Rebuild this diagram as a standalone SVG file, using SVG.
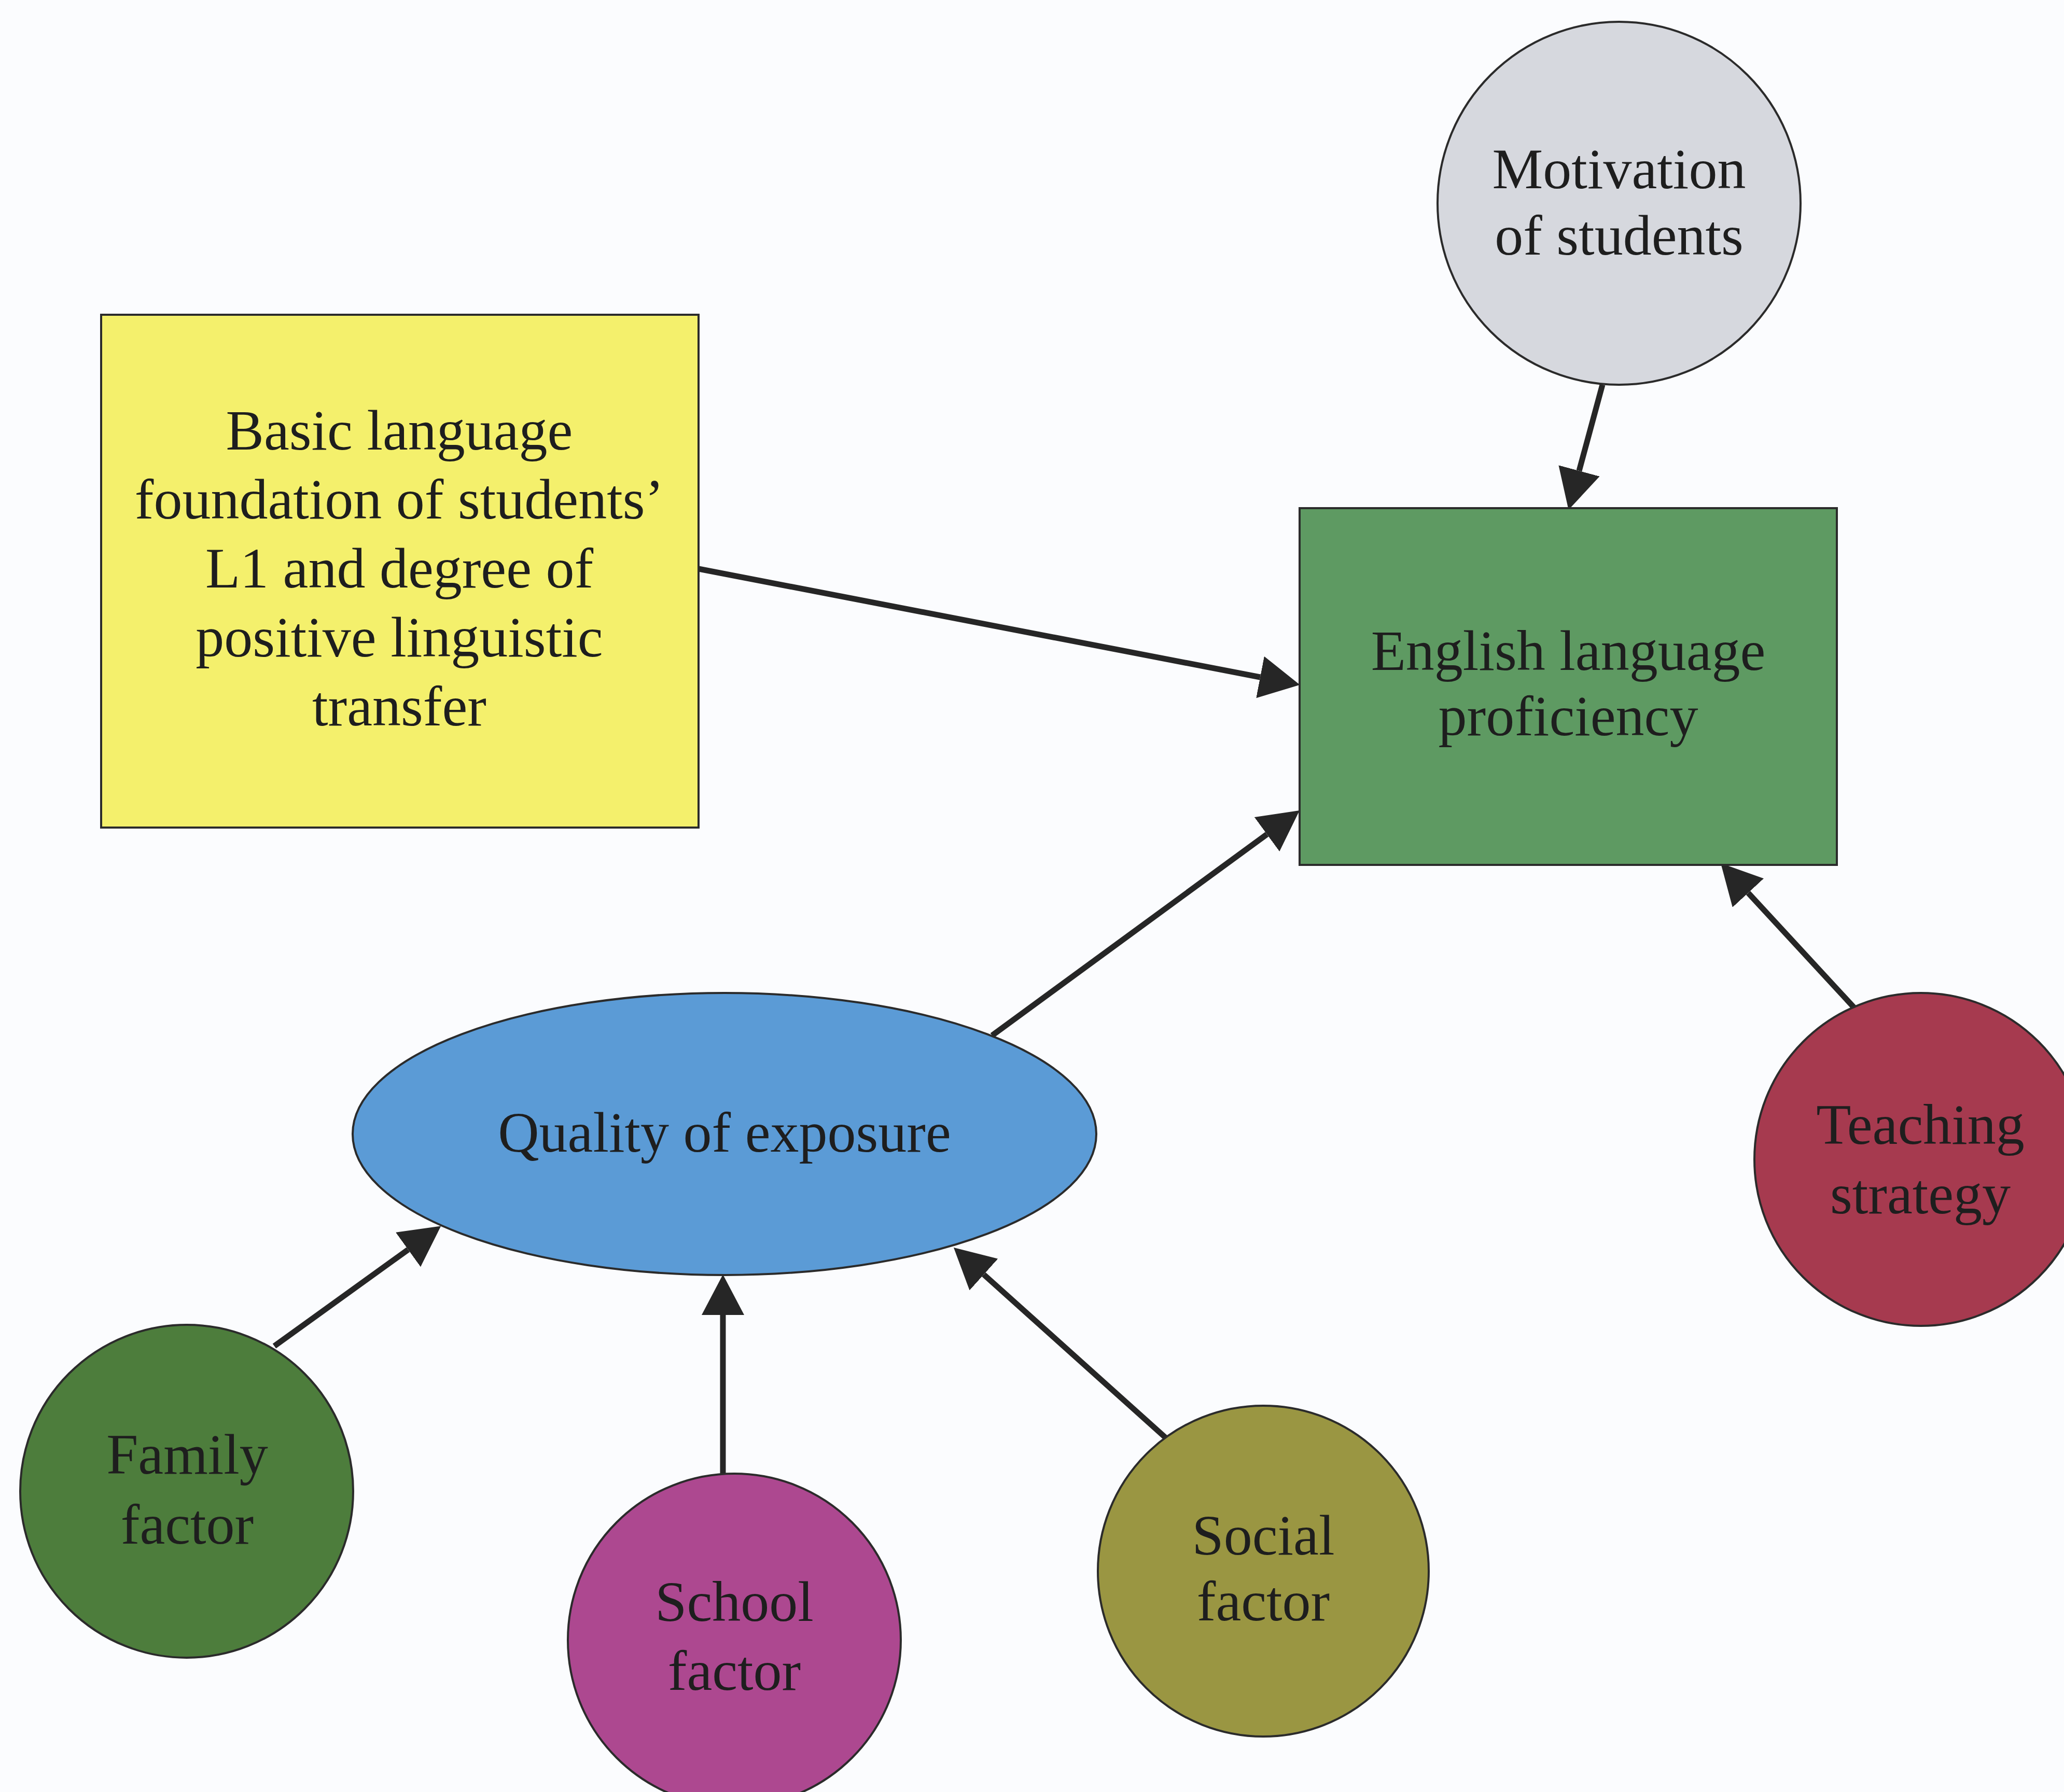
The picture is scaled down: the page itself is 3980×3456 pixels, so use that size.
<svg xmlns="http://www.w3.org/2000/svg" width="3980" height="3456" viewBox="0 0 3980 3456">
<style>
.shape{stroke:#2b2b2b;stroke-width:4}
.lbl{font-family:"Liberation Serif","Times New Roman",serif;font-size:110px;fill:#1e1e1e;text-anchor:middle}
.conn{stroke:#262626;stroke-width:11;fill:none;marker-end:url(#ah)}
</style>
<defs>
<marker id="ah" markerUnits="userSpaceOnUse" viewBox="0 0 78 82" refX="0" refY="41" markerWidth="78" markerHeight="82" orient="auto">
<path d="M0,0 L78,41 L0,82 z" fill="#262626"/>
</marker>
</defs>
<rect x="0" y="0" width="3980" height="3456" fill="#fbfcfe"/>
<g id="connectors">
<line class="conn" x1="3090" y1="742" x2="3045" y2="908"/>
<line class="conn" x1="1347" y1="1097" x2="2430" y2="1306"/>
<line class="conn" x1="1913" y1="1997" x2="2443" y2="1609"/>
<line class="conn" x1="3576" y1="1944" x2="3371" y2="1722"/>
<line class="conn" x1="529" y1="2596" x2="787" y2="2410"/>
<line class="conn" x1="1394" y1="2842" x2="1394" y2="2536"/>
<line class="conn" x1="2248" y1="2773" x2="1897" y2="2458"/>
</g>
<g id="motivation">
<circle class="shape" cx="3122" cy="392" r="350" fill="#d6d8de"/>
<text class="lbl" x="3122" y="363">Motivation</text>
<text class="lbl" x="3122" y="491">of students</text>
</g>
<g id="basic-language">
<rect class="shape" x="195" y="607" width="1152" height="989" fill="#f4f06c"/>
<text class="lbl" x="770" y="867">Basic language</text>
<text class="lbl" x="770" y="1000">foundation of students’</text>
<text class="lbl" x="770" y="1133">L1 and degree of</text>
<text class="lbl" x="770" y="1266">positive linguistic</text>
<text class="lbl" x="770" y="1399">transfer</text>
</g>
<g id="english">
<rect class="shape" x="2506" y="980" width="1036" height="688" fill="#5e9a62"/>
<text class="lbl" x="3024" y="1292">English language</text>
<text class="lbl" x="3024" y="1418">proficiency</text>
</g>
<g id="quality">
<ellipse class="shape" cx="1397" cy="2187" rx="717" ry="272" fill="#5b9bd6"/>
<text class="lbl" x="1397" y="2221">Quality of exposure</text>
</g>
<g id="teaching">
<circle class="shape" cx="3704" cy="2236" r="321" fill="#a63a4f"/>
<text class="lbl" x="3703" y="2206">Teaching</text>
<text class="lbl" x="3703" y="2340">strategy</text>
</g>
<g id="family">
<circle class="shape" cx="360" cy="2876" r="321" fill="#4d7d3c"/>
<text class="lbl" x="361" y="2842">Family</text>
<text class="lbl" x="361" y="2977">factor</text>
</g>
<g id="school">
<circle class="shape" cx="1416" cy="3163" r="321" fill="#ad4890"/>
<text class="lbl" x="1416" y="3126">School</text>
<text class="lbl" x="1416" y="3259">factor</text>
</g>
<g id="social">
<circle class="shape" cx="2436" cy="3030" r="319" fill="#9a9642"/>
<text class="lbl" x="2436" y="2998">Social</text>
<text class="lbl" x="2436" y="3125">factor</text>
</g>
</svg>
